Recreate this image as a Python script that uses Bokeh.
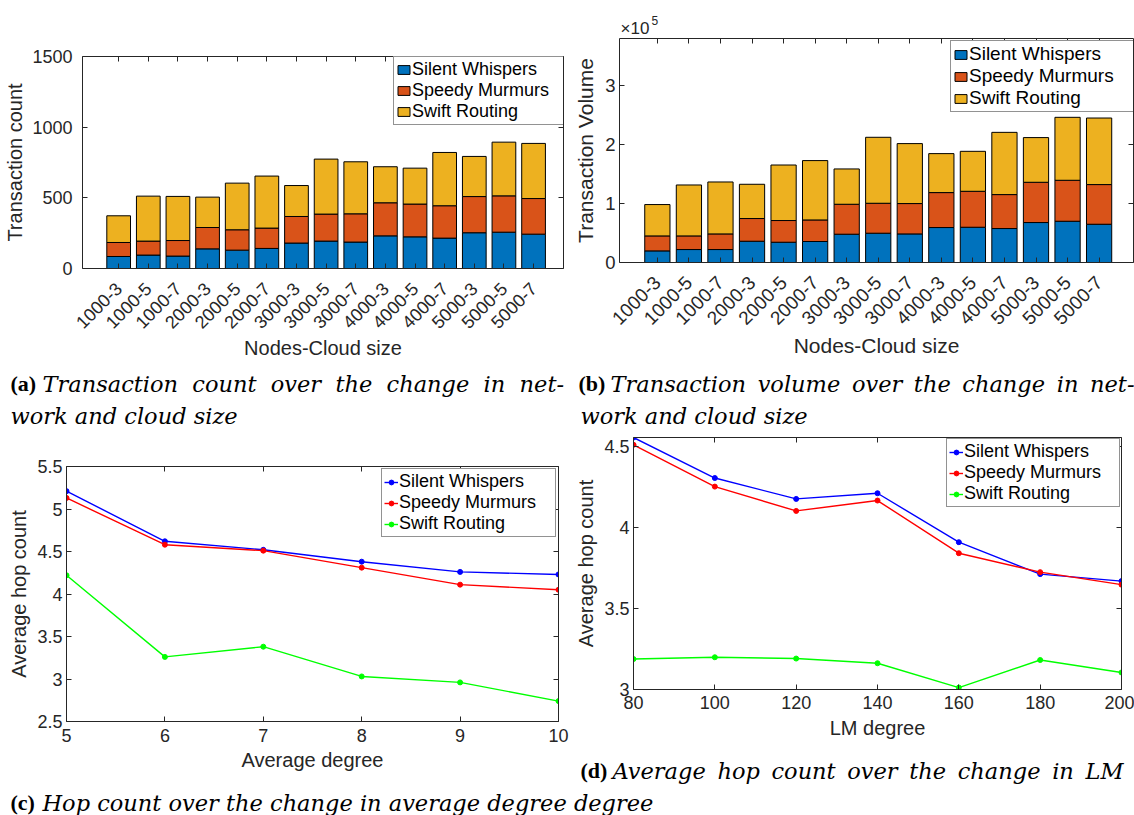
import numpy as np
from bokeh.plotting import figure
from bokeh.models import (ColumnDataSource, Range1d, LinearAxis, FixedTicker, Label,
                          CustomJSTickFormatter, Spacer)
from bokeh.layouts import column, row
from bokeh.embed import file_html
from bokeh.resources import INLINE

# ---------------- data ----------------
config_labels = ["1000-3", "1000-5", "1000-7", "2000-3", "2000-5", "2000-7", "3000-3", "3000-5",
                 "3000-7", "4000-3", "4000-5", "4000-7", "5000-3", "5000-5", "5000-7"]
series_names = ["Silent Whispers", "Speedy Murmurs", "Swift Routing"]

count_silent = [85, 95, 88, 139, 130, 142, 180, 194, 187, 231, 224, 215, 253, 257, 243]
count_speedy = [99, 99, 110, 151, 144, 144, 188, 191, 200, 234, 232, 229, 256, 257, 252]
count_swift = [189, 318, 312, 215, 330, 368, 219, 389, 368, 255, 254, 377, 284, 380, 390]

vol_silent = [19700, 22000, 22000, 36100, 34400, 35600, 48000, 49700, 48500, 59300, 59800, 57600, 67800, 70000, 64900]
vol_speedy = [25400, 23100, 26500, 38500, 36800, 36600, 50800, 50800, 51500, 59300, 61000, 57600, 68300, 69500, 67300]
vol_swift = [53200, 86400, 88100, 58100, 94200, 100700, 59900, 111900, 101700, 66100, 67800, 105600, 75800, 106800, 112900]

avg_degree = [5, 6, 7, 8, 9, 10]
deg_silent = [5.21, 4.62, 4.52, 4.38, 4.26, 4.23]
deg_speedy = [5.13, 4.58, 4.51, 4.31, 4.11, 4.05]
deg_swift = [4.22, 3.26, 3.38, 3.03, 2.96, 2.74]

lm_degree = [80, 100, 120, 140, 160, 180, 200]
lm_silent = [4.555, 4.305, 4.176, 4.211, 3.909, 3.712, 3.669]
lm_speedy = [4.51, 4.252, 4.102, 4.166, 3.841, 3.724, 3.647]
lm_swift = [3.188, 3.199, 3.191, 3.162, 3.012, 3.182, 3.105]

count_ticks = [0, 500, 1000, 1500]
volume_ticks = [0, 100000, 200000, 300000]
deg_yticks = [2.5, 3, 3.5, 4, 4.5, 5, 5.5]
lm_yticks = [3, 3.5, 4, 4.5]

# ---------------- style ----------------
AX = "#262626"
FONT = "Liberation Sans"
TAG_FONT = "Liberation Serif"
CAP_FONT = "DejaVu Serif"
BAR_COLORS = ["#0072BD", "#D95319", "#EDB120"]
LINE_COLORS = ["#0000FF", "#FF0000", "#00FF00"]


def style_axis(ax, tick_size, label_size, standoff, label_standoff):
    ax.axis_line_color = AX
    ax.axis_line_width = 1
    ax.major_tick_line_color = AX
    ax.major_tick_in = 5
    ax.major_tick_out = 0
    ax.minor_tick_line_color = None
    ax.major_label_text_font = FONT
    ax.major_label_text_font_size = tick_size
    ax.major_label_text_color = AX
    ax.axis_label_text_font = FONT
    ax.axis_label_text_font_size = label_size
    ax.axis_label_text_font_style = "normal"
    ax.axis_label_text_color = AX
    ax.major_label_standoff = standoff
    ax.axis_label_standoff = label_standoff


def add_mirror(p, xticks, yticks):
    for loc, ticks in (("above", xticks), ("right", yticks)):
        ax = LinearAxis(ticker=FixedTicker(ticks=ticks),
                        formatter=CustomJSTickFormatter(code="return ''"))
        ax.axis_line_color = AX
        ax.major_tick_line_color = AX
        ax.major_tick_in = 5
        ax.major_tick_out = 0
        ax.minor_tick_line_color = None
        ax.major_label_standoff = 0
        ax.major_label_text_font_size = "1px"
        p.add_layout(ax, loc)


def make_fig(w, h, xr, yr, L, R, T, B):
    p = figure(width=w, height=h, x_range=xr, y_range=yr, output_backend="svg",
               toolbar_location=None, min_border_left=L, min_border_right=R,
               min_border_top=T, min_border_bottom=B)
    p.outline_line_color = None
    p.xgrid.grid_line_color = None
    p.ygrid.grid_line_color = None
    p.background_fill_color = "white"
    p.border_fill_color = "white"
    return p


def style_legend(p, loc, font_size, label_width, glyph_w, glyph_h, label_h):
    lg = p.legend[0]
    lg.location = loc
    lg.border_line_color = AX
    lg.border_line_width = 1
    lg.background_fill_color = "white"
    lg.background_fill_alpha = 1
    lg.label_text_font = FONT
    lg.label_text_font_size = font_size
    lg.label_text_color = "black"
    lg.glyph_width = glyph_w
    lg.glyph_height = glyph_h
    lg.label_standoff = 1
    lg.padding = 2
    lg.spacing = 0
    lg.margin = 0
    lg.label_width = label_width
    lg.label_height = label_h


def strip(w, h, L=0, R=0):
    # text strip whose data coordinates equal its own pixels
    s = figure(width=w, height=h, x_range=Range1d(L, w - R), y_range=Range1d(h, 0),
               x_axis_type=None, y_axis_type=None, toolbar_location=None,
               output_backend="svg", min_border_left=L, min_border_right=R,
               min_border_top=0, min_border_bottom=0)
    s.outline_line_color = None
    s.background_fill_color = "white"
    s.border_fill_color = "white"
    return s


def cap(p, x, y, tag, text, tag_gap=32, size="22.5px"):
    if tag:
        p.add_layout(Label(x=x, y=y, text=tag, text_font=TAG_FONT, text_font_style="bold",
                           text_font_size="22px", text_baseline="middle", text_color="black"))
        x = x + tag_gap
    p.add_layout(Label(x=x, y=y, text=text, text_font=CAP_FONT, text_font_style="italic",
                       text_font_size=size, text_baseline="middle", text_color="black"))


def justify(text, gap):
    # widen the inter-word gaps like the justified first line of a LaTeX caption
    return text.replace(" ", " " + gap)


def bar_panel(w, h, xr, yr, L, R, T, B, vals, yticks, ylabel, tick_size, xtick_size, label_size,
              ystand, ylabstand):
    p = make_fig(w, h, xr, yr, L, R, T, B)
    pos = list(range(1, len(config_labels) + 1))
    src = ColumnDataSource(dict(x=pos, sw=vals[0], sm=vals[1], sr=vals[2]))
    p.vbar_stack(["sw", "sm", "sr"], x="x", width=0.8, source=src, fill_color=BAR_COLORS,
                 line_color="black", line_width=1, legend_label=series_names)
    xa = p.xaxis[0]
    xa.ticker = FixedTicker(ticks=pos)
    xa.major_label_overrides = {i: lab for i, lab in zip(pos, config_labels)}
    xa.major_label_orientation = np.pi / 4
    xa.axis_label = "Nodes-Cloud size"
    style_axis(xa, xtick_size, label_size, 17, 0)
    ya = p.yaxis[0]
    ya.ticker = FixedTicker(ticks=yticks)
    ya.axis_label = ylabel
    style_axis(ya, tick_size, label_size, ystand, ylabstand)
    add_mirror(p, pos, yticks)
    return p


# ---------------- panel (a) ----------------
pa = bar_panel(570, 362, Range1d(-0.22, 16.01), Range1d(0, 1500), 82, 7, 56, 94,
               [count_silent, count_speedy, count_swift], count_ticks, "Transaction count",
               "18px", "18px", "20px", 10, 3)
style_legend(pa, (311, 143), "18px", 151, 15, 11, 20)

# ---------------- panel (b) ----------------
sb = strip(564, 38, 49, 1)
sb.add_layout(Label(x=50, y=28, text="\u00d710", text_font=FONT, text_font_size="17px",
                    text_color=AX, text_baseline="middle"))
sb.add_layout(Label(x=81, y=20, text="5", text_font=FONT, text_font_size="12px",
                    text_color=AX, text_baseline="middle"))
pb = bar_panel(564, 324, Range1d(-0.2, 16.09), Range1d(0, 380000), 49, 1, 0, 100,
               [vol_silent, vol_speedy, vol_swift], volume_ticks, "Transaction Volume",
               "18.5px", "19px", "21px", 4, 5)
pb.yaxis[0].formatter = CustomJSTickFormatter(code="return (tick / 100000).toString()")
style_legend(pb, (331, 150), "19px", 162, 15, 11, 21)


# ---------------- line panels ----------------
def line_panel(w, h, xr, yr, L, R, T, B, xs, series, xticks, yticks, xlabel, xstand, xlabstand):
    p = make_fig(w, h, xr, yr, L, R, T, B)
    for ys, col, name in zip(series, LINE_COLORS, series_names):
        p.line(xs, ys, line_color=col, line_width=1.4, legend_label=name)
        p.scatter(xs, ys, size=5, fill_color=col, line_color=col, legend_label=name)
    xa = p.xaxis[0]
    xa.ticker = FixedTicker(ticks=xticks)
    xa.axis_label = xlabel
    style_axis(xa, "18px", "20px", xstand, xlabstand)
    ya = p.yaxis[0]
    ya.ticker = FixedTicker(ticks=yticks)
    ya.formatter = CustomJSTickFormatter(code="return tick.toString()")
    ya.axis_label = "Average hop count"
    style_axis(ya, "18px", "20px", 4, 4)
    add_mirror(p, xticks, yticks)
    return p


pc = line_panel(570, 358, Range1d(5, 10), Range1d(2.5, 5.5), 66, 12, 34, 69,
                avg_degree, [deg_silent, deg_speedy, deg_swift], avg_degree, deg_yticks,
                "Average degree", 7, 4)
style_legend(pc, (315, 184), "18px", 154, 14, 12, 20)

pd_ = line_panel(563, 320, Range1d(80, 200), Range1d(3, 4.555), 62, 13, 5, 63,
                 lm_degree, [lm_silent, lm_speedy, lm_swift], lm_degree, lm_yticks,
                 "LM degree", 6, 5)
style_legend(pd_, (313, 182), "18px", 153, 14, 12, 20)

sd = strip(564, 38)
cap(sd, 10, 18, "(d)", justify("Average hop count over the change in LM", "\u2009"))

# ---------------- caption strips ----------------
s1 = strip(1134, 70)
cap(s1, 10, 21, "(a)", justify("Transaction count over the change in net-", "\u00a0"))
cap(s1, 10, 53, None, "work and cloud size")
cap(s1, 578, 21, "(b)", justify("Transaction volume over the change in net-", "\u2009"))
cap(s1, 580, 53, None, "work and cloud size")

s2 = strip(1134, 25)
cap(s2, 10, 12, "(c)", "Hop count over the change in average degree degree")

top = row(pa, column(sb, pb))
bottom = row(pc, column(row(Spacer(width=1, height=320), pd_), sd))
layout = column(top, s1, bottom, s2)
open("out.html", "w").write(file_html(layout, INLINE))
